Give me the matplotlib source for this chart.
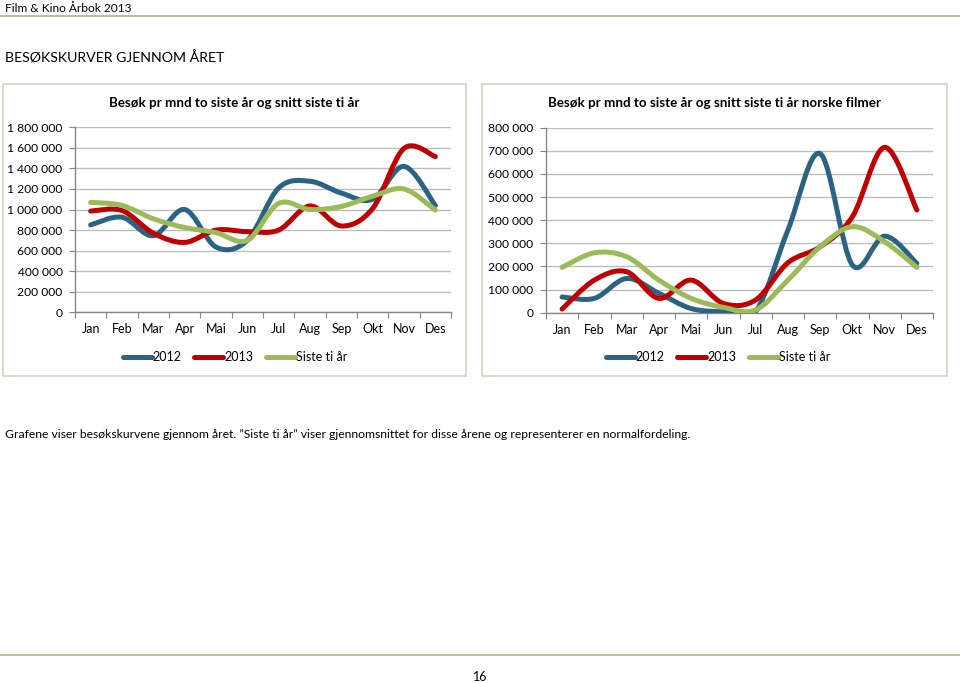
import matplotlib
matplotlib.use("Agg")
import matplotlib.pyplot as plt
from matplotlib.path import Path
from matplotlib.patches import PathPatch, Rectangle
from matplotlib.lines import Line2D
from matplotlib.ticker import FuncFormatter, FixedLocator

plt.rcParams['font.family'] = ['Lato', 'DejaVu Sans']

months = ["Jan", "Feb", "Mar", "Apr", "Mai", "Jun", "Jul", "Aug", "Sep", "Okt", "Nov", "Des"]
series_names = ["2012", "2013", "Siste ti år"]

# Chart 1: total admissions per month
total_2012 = [850000, 925000, 745000, 1000000, 635000, 700000, 1210000, 1275000, 1160000, 1100000, 1420000, 1040000]
total_2013 = [985000, 990000, 770000, 680000, 800000, 785000, 800000, 1035000, 840000, 1010000, 1595000, 1515000]
total_avg = [1070000, 1040000, 910000, 825000, 775000, 700000, 1060000, 1000000, 1030000, 1130000, 1200000, 995000]

# Chart 2: Norwegian films
nor_2012 = [68000, 62000, 148000, 84000, 18000, 4000, 6000, 357000, 688000, 206000, 331000, 213000]
nor_2013 = [16000, 141000, 177000, 62000, 141000, 40000, 55000, 216000, 285000, 415000, 715000, 444000]
nor_avg = [196000, 259000, 242000, 141000, 62000, 23000, 12000, 141000, 285000, 372000, 307000, 196000]

colors = ["#2b6385", "#c00000", "#9bbb59"]
W, H = 960, 683

fig = plt.figure(figsize=(9.6, 6.83), dpi=100)


def fx(px):
    return px / W


def fy(py):
    return 1 - py / H


def smooth_path(xs, ys):
    n = len(xs)
    verts = [(xs[0], ys[0])]
    codes = [Path.MOVETO]
    for i in range(n - 1):
        i0 = max(i - 1, 0)
        i3 = min(i + 2, n - 1)
        c1 = (xs[i] + (xs[i + 1] - xs[i0]) / 6, ys[i] + (ys[i + 1] - ys[i0]) / 6)
        c2 = (xs[i + 1] - (xs[i3] - xs[i]) / 6, ys[i + 1] - (ys[i3] - ys[i]) / 6)
        verts += [c1, c2, (xs[i + 1], ys[i + 1])]
        codes += [Path.CURVE4] * 3
    return Path(verts, codes)


def fmt(v, pos):
    return f"{int(round(v)):,}".replace(",", " ")


def make_chart(rect, data, ymax, ystep, title, title_x, legend_x):
    ax = fig.add_axes(rect)
    x = list(range(len(months)))
    for vals, c in zip(data, colors):
        p = PathPatch(smooth_path(x, vals), fill=False, edgecolor=c, lw=3.6,
                      capstyle='round', joinstyle='round', zorder=3)
        ax.add_patch(p)
    ax.set_xlim(-0.5, 11.5)
    ax.set_ylim(0, ymax)
    yt = list(range(0, ymax + 1, ystep))
    ax.set_yticks(yt)
    ax.yaxis.set_major_formatter(FuncFormatter(fmt))
    ax.grid(axis='y', color='#bdbdbd', lw=1.0, zorder=0)
    ax.set_axisbelow(True)
    ax.xaxis.set_major_locator(FixedLocator([i - 0.5 for i in range(13)]))
    ax.xaxis.set_major_formatter(FuncFormatter(lambda v, p: ""))
    ax.xaxis.set_minor_locator(FixedLocator(x))
    ax.set_xticklabels(months, minor=True)
    ax.tick_params(axis='x', which='major', length=4, color='#868686', direction='out')
    ax.tick_params(axis='x', which='minor', length=0, pad=8, labelsize=9)
    ax.tick_params(axis='y', length=4, color='#868686', labelsize=8.7, pad=5)
    for s in ['top', 'right']:
        ax.spines[s].set_visible(False)
    for s in ['left', 'bottom']:
        ax.spines[s].set_color('#868686')
        ax.spines[s].set_linewidth(1.0)
    fig.text(fx(title_x), fy(103), title, ha='center', va='center',
             fontsize=9.6, fontweight='bold')
    handles = [Line2D([], [], color=c, lw=3.6, solid_capstyle='round') for c in colors]
    fig.legend(handles, series_names, loc='center', bbox_to_anchor=(fx(legend_x), fy(357)),
               ncol=3, frameon=False, fontsize=9, handlelength=2.3, handletextpad=0.1,
               columnspacing=1.0)
    return ax


# page decorations
fig.add_artist(Line2D([0, 1], [fy(16), fy(16)], color='#b9b596', lw=1.3))
fig.add_artist(Line2D([0, 1], [fy(655), fy(655)], color='#b9b596', lw=1.3))
fig.text(fx(5), fy(8), "Film & Kino Årbok 2013", ha='left', va='center', fontsize=8.6)
fig.text(fx(5), fy(58), "BESØKSKURVER GJENNOM ÅRET", ha='left', va='center', fontsize=10.2)
fig.text(fx(5), fy(434), "Grafene viser besøkskurvene gjennom året. \u201dSiste ti år\u201d viser gjennomsnittet for disse årene og representerer en normalfordeling.",
         ha='left', va='center', fontsize=8.75)
fig.text(fx(480), fy(677), "16", ha='center', va='center', fontsize=9)

for (x0, x1) in [(3, 466), (482, 947)]:
    fig.add_artist(Rectangle((fx(x0), fy(376)), fx(x1 - x0), (376 - 84) / H,
                             fill=False, edgecolor='#d6d3c0', lw=1.2))

make_chart([fx(75), fy(312.3), fx(451) - fx(75), (312.3 - 127.3) / H],
           [total_2012, total_2013, total_avg], 1800000, 200000,
           "Besøk pr mnd to siste år og snitt siste ti år", 234, 235)
make_chart([fx(546), fy(312.7), fx(933) - fx(546), (312.7 - 127.7) / H],
           [nor_2012, nor_2013, nor_avg], 800000, 100000,
           "Besøk pr mnd to siste år og snitt siste ti år norske filmer", 715, 718)

fig.savefig("out.png", dpi=100)
